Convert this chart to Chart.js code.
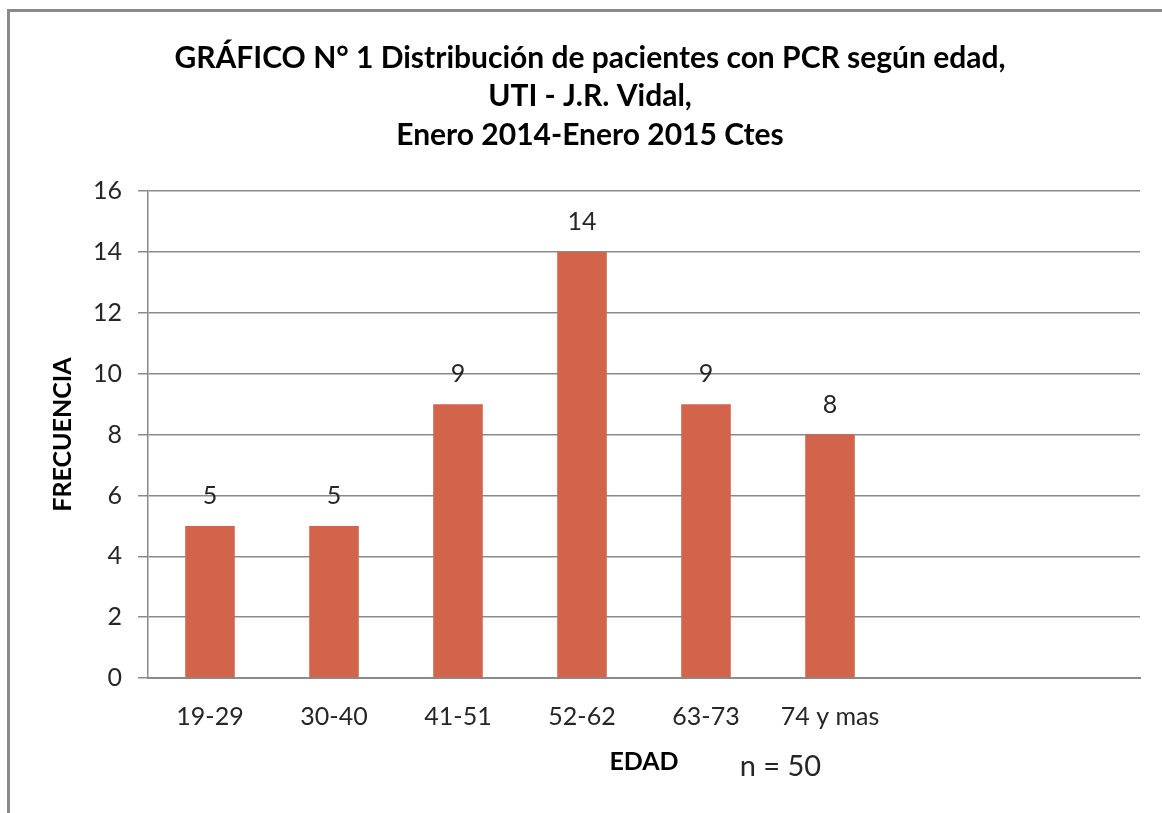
<!DOCTYPE html>
<html><head><meta charset="utf-8">
<script src="https://cdn.jsdelivr.net/npm/chart.js@4"></script>
<style>html,body{margin:0;padding:0;background:#fff}#wrap{width:1162px;height:813px;position:relative}</style>
</head><body><div id="wrap"><canvas id="c" width="1162" height="813"></canvas></div>
<script>
const categories = ["19-29","30-40","41-51","52-62","63-73","74 y mas","",""];
const frecuencia = [5,5,9,14,9,8,null,null];
const yTicks = [0,2,4,6,8,10,12,14,16];
const titleLines = ["GRÁFICO N° 1 Distribución de pacientes con PCR según edad,","UTI - J.R. Vidal,","Enero 2014-Enero 2015 Ctes"];
const xTitle = "EDAD";
const yTitle = "FRECUENCIA";
const noteText = "n = 50";

const FONT = "Lato, 'Open Sans', sans-serif";
const frame = {
  id:'frame',
  beforeDraw(chart){
    const ctx = chart.ctx;
    ctx.save();
    ctx.fillStyle='#fff';ctx.fillRect(0,0,chart.width,chart.height);
    ctx.strokeStyle='#8a8a8a';ctx.lineWidth=3;
    ctx.beginPath();ctx.moveTo(8.5,813);ctx.lineTo(8.5,10.5);ctx.lineTo(1162,10.5);ctx.stroke();
    ctx.restore();
  }
};
const valueLabels = {
  id:'valueLabels',
  afterDatasetsDraw(chart){
    const ctx = chart.ctx;
    const meta = chart.getDatasetMeta(0);
    ctx.save();
    ctx.font = "25px "+FONT;ctx.fillStyle='#262626';ctx.textAlign='center';ctx.textBaseline='middle';
    meta.data.forEach((bar,i)=>{
      const v = frecuencia[i];
      if(v==null) return;
      ctx.fillText(String(v), bar.x, bar.y-30);
    });
    const xs = chart.scales.x;
    ctx.font = "29px "+FONT;
    ctx.fillText(noteText, xs.getPixelForValue(4.6), 767);
    ctx.restore();
  }
};

new Chart(document.getElementById('c'), {
  type:'bar',
  data:{labels:categories,datasets:[{data:frecuencia,backgroundColor:'#D2644B',barPercentage:0.8,categoryPercentage:0.5}]},
  options:{
    responsive:false,animation:false,
    layout:{padding:{left:40,right:22,top:12,bottom:0}},
    plugins:{
      legend:{display:false},tooltip:{enabled:false},
      title:{display:true,text:titleLines,color:'#000',font:{family:FONT,size:30,weight:'bold',lineHeight:1.28},padding:{top:27,bottom:37}}
    },
    scales:{
      x:{
        grid:{display:false,drawTicks:false},
        border:{display:true,color:'#8a8a8a',width:2},
        ticks:{color:'#262626',font:{family:FONT,size:25},padding:24,maxRotation:0,autoSkip:false},
        title:{display:true,text:xTitle,color:'#000',font:{family:FONT,size:25,weight:'bold'},padding:{top:4,bottom:36}},
        afterFit(s){s.height=135;}
      },
      y:{
        min:0,max:16,
        afterBuildTicks(s){s.ticks=yTicks.map(v=>({value:v}));},
        grid:{color:'#8a8a8a',lineWidth:1.5,tickLength:10},
        border:{display:true,color:'#8a8a8a',width:1.5},
        ticks:{color:'#262626',font:{family:FONT,size:25},padding:16},
        title:{display:true,text:yTitle,color:'#000',font:{family:FONT,size:25,weight:'bold'},padding:{top:8,bottom:4}},
        afterFit(s){s.width=108;}
      }
    }
  },
  plugins:[frame,valueLabels]
});
</script></body></html>
